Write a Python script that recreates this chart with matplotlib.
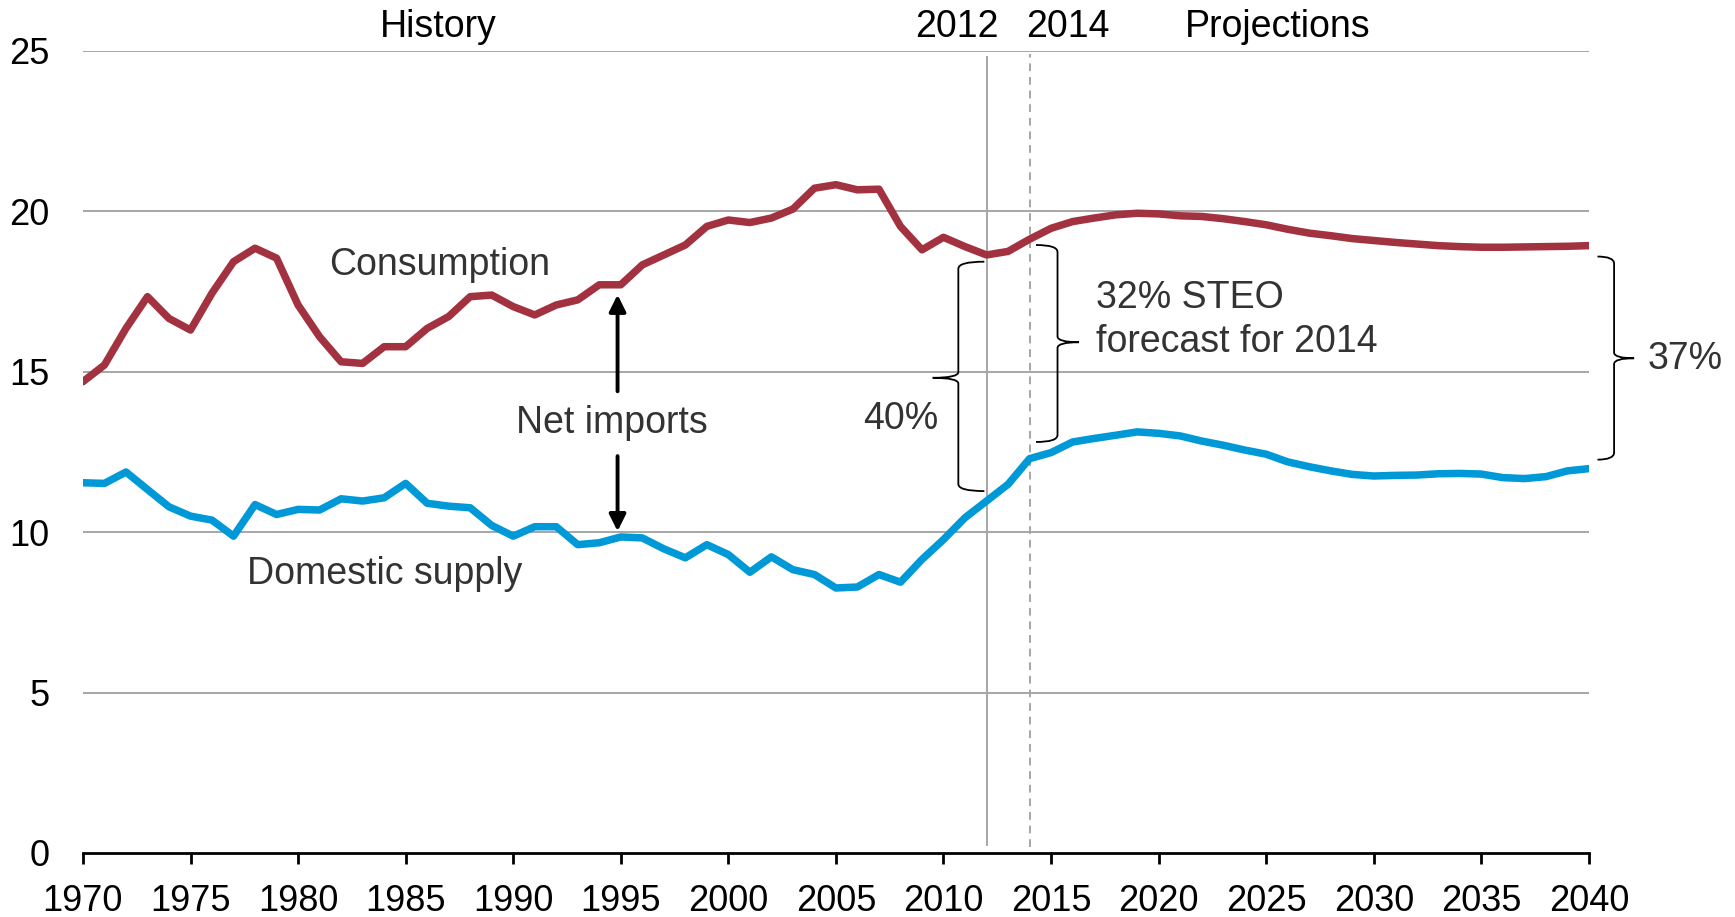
import matplotlib
matplotlib.use("Agg")
import matplotlib.pyplot as plt
from matplotlib.path import Path
from matplotlib.patches import PathPatch
import numpy as np

plt.rcParams['font.family'] = ['Liberation Sans', 'DejaVu Sans']

# ---------------- data ----------------
years = list(range(1970, 2041))
consumption = [
    14.69, 15.21, 16.35, 17.34, 16.66, 16.30, 17.45, 18.43, 18.85, 18.54,
    17.08, 16.09, 15.31, 15.26, 15.78, 15.78, 16.35, 16.72, 17.34, 17.39,
    17.03, 16.77, 17.08, 17.24, 17.71, 17.71, 18.33, 18.64, 18.95, 19.53,
    19.73, 19.65, 19.79, 20.07, 20.72, 20.83, 20.67, 20.69, 19.53, 18.80,
    19.19, 18.90, 18.64, 18.75, 19.13, 19.47, 19.68, 19.79, 19.89, 19.94,
    19.92, 19.86, 19.84, 19.77, 19.68, 19.58, 19.44, 19.32, 19.24, 19.15,
    19.09, 19.03, 18.98, 18.93, 18.90, 18.88, 18.88, 18.89, 18.90, 18.91,
    18.93,
]
domestic_supply = [
    11.54, 11.52, 11.875, 11.33, 10.79, 10.50, 10.375, 9.875, 10.86, 10.55,
    10.71, 10.69, 11.04, 10.97, 11.07, 11.52, 10.90, 10.81, 10.76, 10.21,
    9.875, 10.17, 10.17, 9.61, 9.67, 9.85, 9.82, 9.48, 9.20, 9.61,
    9.30, 8.75, 9.23, 8.83, 8.68, 8.26, 8.29, 8.68, 8.44, 9.15,
    9.77, 10.45, 10.97, 11.49, 12.29, 12.48, 12.81, 12.92, 13.02, 13.125,
    13.08, 13.00, 12.84, 12.71, 12.56, 12.43, 12.19, 12.04, 11.91, 11.80,
    11.75, 11.77, 11.78, 11.82, 11.83, 11.81, 11.70, 11.67, 11.73, 11.91,
    11.98,
]
x_ticks = list(range(1970, 2041, 5))
y_ticks = [0, 5, 10, 15, 20, 25]
top_labels = ["History", "2012", "2014", "Projections"]
series_labels = ["Consumption", "Domestic supply", "Net imports"]
share_labels = ["40%", "32% STEO", "forecast for 2014", "37%"]

# ---------------- figure ----------------
fig = plt.figure(figsize=(17.35, 9.17), dpi=100)
ax = fig.add_axes([0.0478, 0.0698, 0.8680, 0.8747])
ax.set_xlim(1970, 2040)
ax.set_ylim(0, 25)

FS = 26
FA = 27
GRID = '#A6A6A6'
TXT = '#333333'

for s in ['top', 'right', 'left']:
    ax.spines[s].set_visible(False)
ax.spines['bottom'].set_linewidth(2.0)
ax.spines['bottom'].set_color('black')
ax.spines['bottom'].set_zorder(5)

ax.set_xticks(x_ticks)
ax.set_xticklabels([str(t) for t in x_ticks], fontsize=FS)
ax.set_yticks(y_ticks)
ax.set_yticklabels([str(t) for t in y_ticks], fontsize=FS)
ax.tick_params(axis='x', direction='out', length=8, width=2.0, pad=14, colors='black')
ax.tick_params(axis='y', length=0, pad=24, colors='black')

for v in y_ticks[1:]:
    ax.axhline(v, color=GRID, lw=1.4, zorder=1)

# vertical markers
ax.plot([2012, 2012], [0.25, 24.8], color=GRID, lw=1.4, zorder=1)
ax.plot([2014, 2014], [0.2, 24.9], color=GRID, lw=1.4, ls=(0, (4, 3)), zorder=1)

# series
ax.plot(years, consumption, color='#A33241', lw=5.4, solid_joinstyle='round',
        solid_capstyle='round', zorder=3)
ax.plot(years, domestic_supply, color='#0099D8', lw=5.4, solid_joinstyle='round',
        solid_capstyle='round', zorder=3)

# top labels
ax.text(1986.5, 25.43, top_labels[0], fontsize=FA, ha='center', va='baseline', color='black')
ax.text(2010.63, 25.43, top_labels[1], fontsize=FA, ha='center', va='baseline', color='black')
ax.text(2015.76, 25.43, top_labels[2], fontsize=FA, ha='center', va='baseline', color='black')
ax.text(2025.53, 25.43, top_labels[3], fontsize=FA, ha='center', va='baseline', color='black')

# series labels
ax.text(1986.6, 18.0, series_labels[0], fontsize=FA, ha='center', va='baseline', color=TXT)
ax.text(1984.0, 8.37, series_labels[1], fontsize=FA, ha='center', va='baseline', color=TXT)
ax.text(1994.6, 13.10, series_labels[2], fontsize=FA, ha='center', va='baseline', color=TXT)

# net imports arrows
arrow_kw = dict(arrowstyle='-|>,head_length=1.0,head_width=0.5', color='black', lw=2.8,
                shrinkA=0, shrinkB=0, mutation_scale=10)
ax.annotate('', xy=(1994.85, 17.40), xytext=(1994.85, 14.39), arrowprops=arrow_kw)
ax.annotate('', xy=(1994.85, 10.03), xytext=(1994.85, 12.37), arrowprops=arrow_kw)

# share labels
ax.text(2008.0, 13.2, share_labels[0], fontsize=FA, ha='center', va='baseline', color=TXT)
ax.text(2017.1, 16.99, share_labels[1], fontsize=FA, ha='left', va='baseline', color=TXT)
ax.text(2017.1, 15.61, share_labels[2], fontsize=FA, ha='left', va='baseline', color=TXT)
ax.text(2042.73, 15.09, share_labels[3], fontsize=FA, ha='left', va='baseline', color=TXT,
        clip_on=False)


def brace(ax, xs, y_bot, y_top, x_end, x_tip, y_tip, r=0.22, rt=0.18):
    verts = [
        (x_end, y_top), (xs, y_top), (xs, y_top - r),
        (xs, y_tip + rt),
        (xs, y_tip), (x_tip, y_tip),
        (xs, y_tip), (xs, y_tip - rt),
        (xs, y_bot + r),
        (xs, y_bot), (x_end, y_bot),
    ]
    codes = [Path.MOVETO, Path.CURVE3, Path.CURVE3,
             Path.LINETO,
             Path.CURVE3, Path.CURVE3,
             Path.CURVE3, Path.CURVE3,
             Path.LINETO,
             Path.CURVE3, Path.CURVE3]
    p = PathPatch(Path(verts, codes), fill=False, edgecolor='black', lw=1.3,
                  clip_on=False, zorder=4)
    ax.add_patch(p)


brace(ax, 2010.69, 11.28, 18.43, 2011.9, 2009.5, 14.81)
brace(ax, 2015.30, 12.81, 18.95, 2014.3, 2016.3, 15.92)
brace(ax, 2041.17, 12.26, 18.59, 2040.4, 2042.1, 15.42)

fig.savefig('out.png', dpi=100)
